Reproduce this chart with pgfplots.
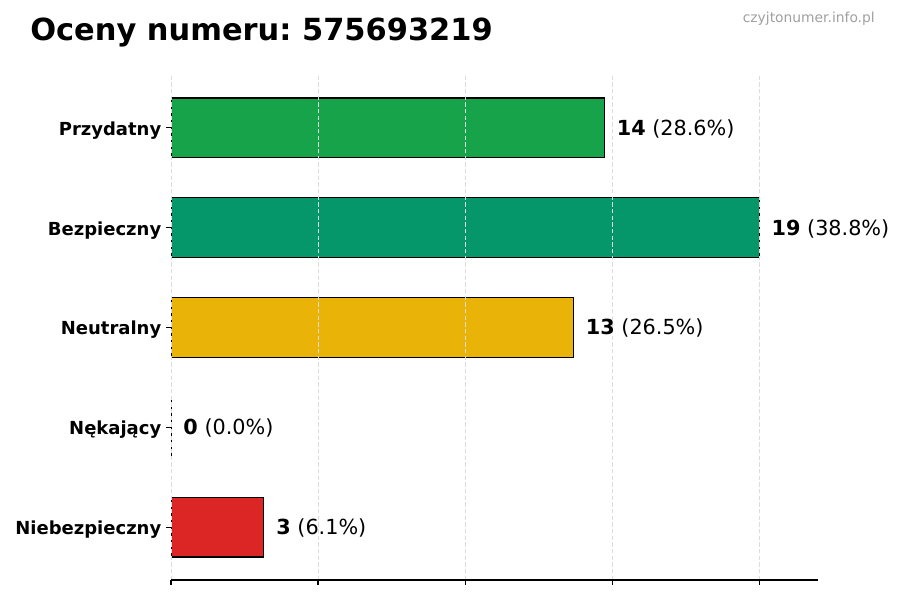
\documentclass[border=0pt]{standalone}
\usepackage{pgfplots}
\pgfplotsset{compat=1.18}
\usepackage{fontspec}
\setmainfont{DejaVu Sans}
\frenchspacing

\definecolor{cPrz}{HTML}{16A34A}
\definecolor{cBez}{HTML}{059669}
\definecolor{cNeu}{HTML}{EAB308}
\definecolor{cNek}{HTML}{EA580C}
\definecolor{cNie}{HTML}{DC2626}
\definecolor{gridc}{HTML}{DCDCDC}
\definecolor{wmark}{HTML}{A0A0A0}

\begin{document}
\begin{tikzpicture}
\path[use as bounding box, fill=white] (0,0) rectangle (648bp,432bp);

% title and watermark
\node[anchor=base west, inner sep=0pt, font=\bfseries\fontsize{22}{26}\selectfont]
  at (21.6bp,402.5bp) {Oceny numeru: 575693219};
\node[anchor=base east, inner sep=0pt, text=wmark, font=\fontsize{10}{12}\selectfont]
  at (630bp,416bp) {czyjtonumer.info.pl};

\begin{axis}[
  at={(123.12bp,14.4bp)}, anchor=south west,
  scale only axis, width=465.84bp, height=363.6bp,
  xmin=0, xmax=20.9, ymin=-0.53, ymax=4.53,
  axis lines*=left,
  y axis line style={draw=none},
  x axis line style={line width=0.8pt},
  tick align=outside, tick pos=left,
  major tick length=3.5bp,
  tick style={black, line width=0.8pt},
  xtick={0,4.75,9.5,14.25,19},
  xticklabels={},
  ytick={0,1,2,3,4},
  yticklabels={Niebezpieczny,Nękający,Neutralny,Bezpieczny,Przydatny},
  yticklabel style={font=\bfseries\fontsize{13}{15}\selectfont, yshift=-1.8bp},
  xmajorgrids,
  major grid style={gridc, line width=0.5pt, dash pattern=on 3bp off 1.8bp},
  axis on top,
  xbar, bar width=0.6, bar shift=0pt,
  nodes near coords,
  point meta=explicit symbolic,
  every node near coord/.append style={anchor=west, inner sep=0pt, xshift=8.6bp,
    yshift=-0.7bp, font=\fontsize{15}{18}\selectfont, text=black},
]
\addplot[xbar, bar shift=0pt, fill=cPrz, draw=black, line width=0.8pt]
  coordinates {(14,4) [\textbf{14} (28.6\%)]};
\addplot[xbar, bar shift=0pt, fill=cBez, draw=black, line width=0.8pt]
  coordinates {(19,3) [\textbf{19} (38.8\%)]};
\addplot[xbar, bar shift=0pt, fill=cNeu, draw=black, line width=0.8pt]
  coordinates {(13,2) [\textbf{13} (26.5\%)]};
\addplot[xbar, bar shift=0pt, fill=cNek, draw=black, line width=0.8pt]
  coordinates {(0,1) [\textbf{0} (0.0\%)]};
\addplot[xbar, bar shift=0pt, fill=cNie, draw=black, line width=0.8pt]
  coordinates {(3,0) [\textbf{3} (6.1\%)]};
\end{axis}
\end{tikzpicture}
\end{document}
